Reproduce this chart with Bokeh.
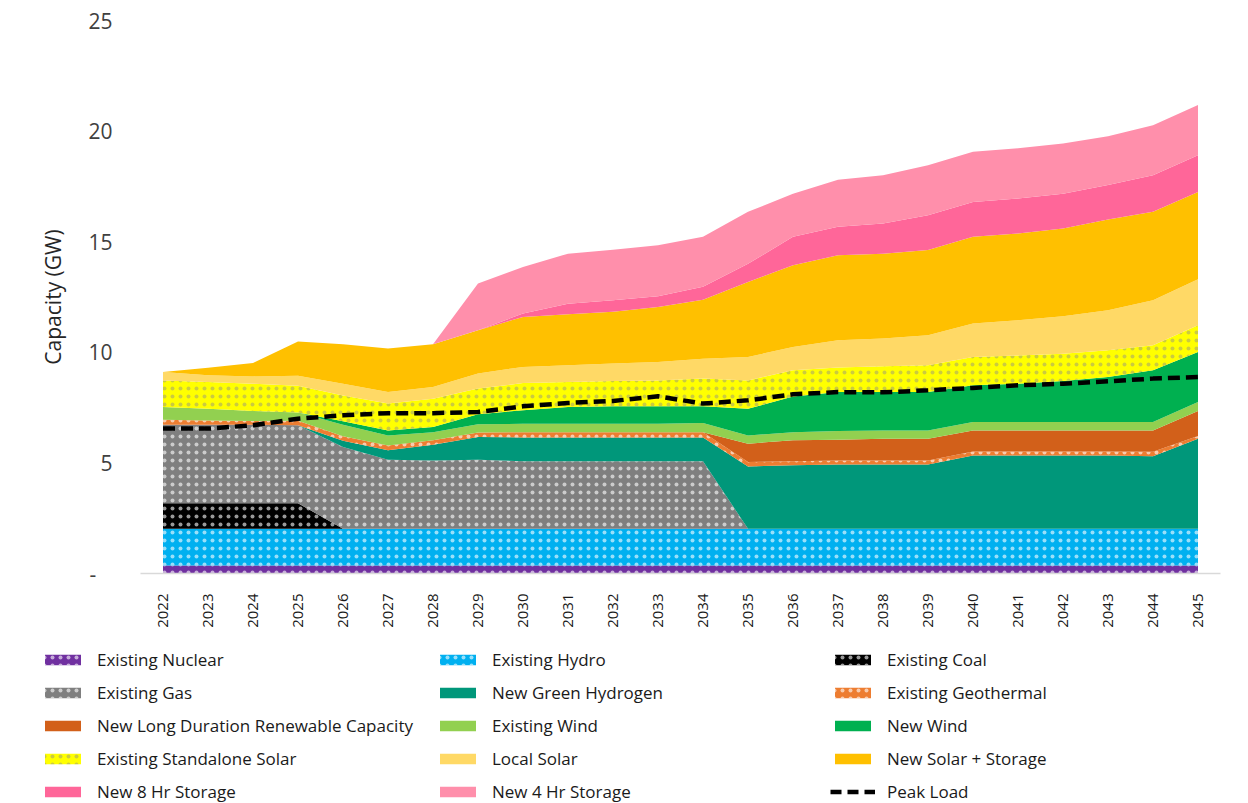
import math
from bokeh.plotting import figure
from bokeh.models import (ColumnDataSource, Range1d, FixedTicker, Legend, LegendItem)
from bokeh.layouts import column
from bokeh.transform import stack
from bokeh.embed import file_html
from bokeh.resources import INLINE

years = [2022, 2023, 2024, 2025, 2026, 2027, 2028, 2029, 2030, 2031, 2032, 2033,
         2034, 2035, 2036, 2037, 2038, 2039, 2040, 2041, 2042, 2043, 2044, 2045]

existing_nuclear = [0.36, 0.36, 0.36, 0.36, 0.36, 0.36, 0.36, 0.36, 0.36, 0.36, 0.36, 0.36,
                    0.36, 0.36, 0.36, 0.36, 0.36, 0.36, 0.36, 0.36, 0.36, 0.36, 0.36, 0.36]
existing_hydro = [1.66, 1.66, 1.66, 1.66, 1.66, 1.66, 1.66, 1.66, 1.66, 1.66, 1.66, 1.66,
                  1.66, 1.66, 1.66, 1.66, 1.66, 1.66, 1.66, 1.66, 1.66, 1.66, 1.66, 1.66]
existing_coal = [1.16, 1.16, 1.16, 1.16, 0, 0, 0, 0, 0, 0, 0, 0,
                 0, 0, 0, 0, 0, 0, 0, 0, 0, 0, 0, 0]
existing_gas = [3.55, 3.55, 3.55, 3.52, 3.70, 3.12, 3.09, 3.12, 3.06, 3.06, 3.06, 3.06,
                3.06, 0, 0, 0, 0, 0, 0, 0, 0, 0, 0, 0]
new_green_hydrogen = [0, 0, 0, 0, 0.28, 0.43, 0.71, 1.03, 1.07, 1.07, 1.07, 1.07,
                      1.07, 2.82, 2.87, 2.91, 2.91, 2.91, 3.32, 3.32, 3.32, 3.32, 3.28, 4.07]
existing_geothermal = [0.22, 0.19, 0.16, 0.20, 0.20, 0.22, 0.20, 0.20, 0.24, 0.24, 0.24, 0.24,
                       0.24, 0.20, 0.19, 0.18, 0.18, 0.18, 0.18, 0.18, 0.18, 0.18, 0.20, 0.13]
new_long_duration = [0, 0, 0, 0, 0, 0, 0, 0, 0, 0, 0, 0,
                     0, 0.83, 0.94, 0.94, 0.98, 0.98, 0.95, 0.95, 0.95, 0.95, 0.97, 1.13]
existing_wind = [0.58, 0.53, 0.46, 0.38, 0.52, 0.45, 0.37, 0.38, 0.38, 0.38, 0.38, 0.38,
                 0.41, 0.37, 0.37, 0.39, 0.38, 0.38, 0.38, 0.38, 0.38, 0.38, 0.38, 0.40]
new_wind = [0, 0, 0, 0, 0.16, 0.23, 0.23, 0.45, 0.61, 0.76, 0.79, 0.79,
            0.76, 1.21, 1.61, 1.76, 1.73, 1.73, 1.66, 1.73, 1.85, 2.03, 2.34, 2.26]
existing_standalone_solar = [1.20, 1.21, 1.23, 1.21, 1.17, 1.21, 1.28, 1.16, 1.23, 1.13, 1.14, 1.17,
                             1.25, 1.28, 1.19, 1.11, 1.17, 1.21, 1.28, 1.28, 1.24, 1.21, 1.13, 1.21]
local_solar = [0.38, 0.30, 0.33, 0.45, 0.53, 0.52, 0.53, 0.68, 0.73, 0.75, 0.79, 0.83,
               0.90, 1.06, 1.05, 1.23, 1.25, 1.36, 1.51, 1.59, 1.69, 1.81, 2.03, 2.08]
new_solar_storage = [0.00, 0.34, 0.61, 1.55, 1.78, 1.97, 1.93, 1.96, 2.26, 2.31, 2.34, 2.49,
                     2.67, 3.39, 3.70, 3.85, 3.84, 3.85, 3.92, 3.92, 3.97, 4.10, 4.00, 3.95]
new_8hr_storage = [0, 0, 0, 0, 0, 0, 0, 0, 0.15, 0.48, 0.52, 0.48,
                   0.58, 0.82, 1.28, 1.29, 1.36, 1.58, 1.58, 1.58, 1.57, 1.56, 1.65, 1.66]
new_4hr_storage = [0, 0, 0, 0, 0, 0, 0, 2.11, 2.11, 2.26, 2.29, 2.31,
                   2.26, 2.35, 1.95, 2.12, 2.18, 2.26, 2.27, 2.27, 2.27, 2.21, 2.27, 2.27]
peak_load = [6.55, 6.55, 6.70, 7.00, 7.15, 7.25, 7.25, 7.30, 7.56, 7.71, 7.80, 8.01,
             7.68, 7.83, 8.10, 8.20, 8.19, 8.28, 8.39, 8.51, 8.58, 8.69, 8.81, 8.88]

series_labels = ["Existing Nuclear", "Existing Hydro", "Existing Coal", "Existing Gas",
                 "New Green Hydrogen", "Existing Geothermal", "New Long Duration Renewable Capacity",
                 "Existing Wind", "New Wind", "Existing Standalone Solar", "Local Solar",
                 "New Solar + Storage", "New 8 Hr Storage", "New 4 Hr Storage"]
series_values = [existing_nuclear, existing_hydro, existing_coal, existing_gas,
                 new_green_hydrogen, existing_geothermal, new_long_duration,
                 existing_wind, new_wind, existing_standalone_solar, local_solar,
                 new_solar_storage, new_8hr_storage, new_4hr_storage]
series_colors = ["#7030A0", "#00B0F0", "#000000", "#7F7F7F", "#00977A", "#ED7D31",
                 "#D2601A", "#92D050", "#00B050", "#FFFF00", "#FFD966", "#FFC000",
                 "#FF6699", "#FF8FAB"]
series_dots = ["white", "white", "white", "white", None, "white", None, None, None,
               "#8C8C8C", None, None, None, None]
peak_label = "Peak Load"

y_ticks = [0, 5, 10, 15, 20, 25]

keys = ["s%d" % i for i in range(len(series_values))]
data = {"year": years, "peak": peak_load}
for k, v in zip(keys, series_values):
    data[k] = v
source = ColumnDataSource(data)

FONT = "Open Sans"
W = 1248


def hatch_kw(dot):
    if dot is None:
        return {}
    alpha = 0.45 if dot != "white" else 0.6
    return dict(hatch_pattern="dot", hatch_color=dot, hatch_scale=8,
                hatch_weight=1.2, hatch_alpha=alpha)


p = figure(width=W, height=640, output_backend="svg", toolbar_location=None,
           x_range=Range1d(2021.5, 2045.5), y_range=Range1d(0, 25),
           min_border_left=140, min_border_right=28, min_border_top=20,
           min_border_bottom=67)
p.outline_line_color = None
p.xgrid.grid_line_color = None
p.ygrid.grid_line_color = None
p.frame_align = False

for i, (k, c, dot) in enumerate(zip(keys, series_colors, series_dots)):
    p.varea(x="year", y1=stack(*keys[:i]), y2=stack(*keys[:i + 1]), source=source,
            fill_color=c, fill_alpha=1.0, **hatch_kw(dot))

p.line(x="year", y="peak", source=source, line_color="black", line_width=4.5,
       line_dash="12 6")

# axes
p.xaxis.ticker = FixedTicker(ticks=years)
p.xaxis.major_label_orientation = math.pi / 2
p.xaxis.major_label_text_font = FONT
p.xaxis.major_label_text_font_size = "15px"
p.xaxis.major_label_text_color = "#1a1a1a"
p.xaxis.major_label_standoff = 20
p.xaxis.major_tick_out = 0
p.xaxis.major_tick_in = 0
p.xaxis.major_tick_line_color = None
p.xaxis.minor_tick_line_color = None
p.xaxis.axis_line_color = "#D9D9D9"
p.xaxis.axis_line_width = 1.5

p.yaxis.ticker = FixedTicker(ticks=y_ticks)
p.yaxis.major_label_overrides = {0: "-\u00a0\u00a0\u00a0"}
p.yaxis.major_label_text_font = FONT
p.yaxis.major_label_text_font_size = "21px"
p.yaxis.major_label_text_color = "#404040"
p.yaxis.major_label_standoff = 28
p.yaxis.major_tick_out = 0
p.yaxis.major_tick_in = 0
p.yaxis.major_tick_line_color = None
p.yaxis.minor_tick_line_color = None
p.yaxis.axis_line_color = None
p.yaxis.axis_label = "Capacity (GW)"
p.yaxis.axis_label_text_font = FONT
p.yaxis.axis_label_text_font_size = "21px"
p.yaxis.axis_label_text_font_style = "normal"
p.yaxis.axis_label_text_color = "#262626"
p.yaxis.axis_label_standoff = 18

# legend panel (3 columns x 5 rows) below the chart
q = figure(width=W, height=163, output_backend="svg", toolbar_location=None,
           x_range=Range1d(0, 1), y_range=Range1d(0, 1),
           x_axis_type=None, y_axis_type=None, min_border=0)
q.outline_line_color = None
q.xgrid.grid_line_color = None
q.ygrid.grid_line_color = None
q.frame_align = False

items = []
for lab, c, dot in zip(series_labels, series_colors, series_dots):
    r = q.varea(x=[0, 1], y1=[2, 2], y2=[2, 2], fill_color=c, **hatch_kw(dot))
    items.append(LegendItem(label=lab, renderers=[r]))
rl = q.line(x=[0, 1], y=[2, 2], line_color="black", line_width=4.5, line_dash="11 6")
items.append(LegendItem(label=peak_label, renderers=[rl]))

leg = Legend(items=items, location=(40, 0), orientation="horizontal", ncols=3,
             glyph_width=45, glyph_height=13, label_height=22, label_width=328,
             label_standoff=12, padding=0, margin=0, spacing=10,
             border_line_color=None, background_fill_alpha=0,
             label_text_font=FONT, label_text_font_size="17px",
             label_text_color="#1a1a1a")
q.add_layout(leg)

open("out.html", "w").write(file_html(column(p, q), INLINE))
